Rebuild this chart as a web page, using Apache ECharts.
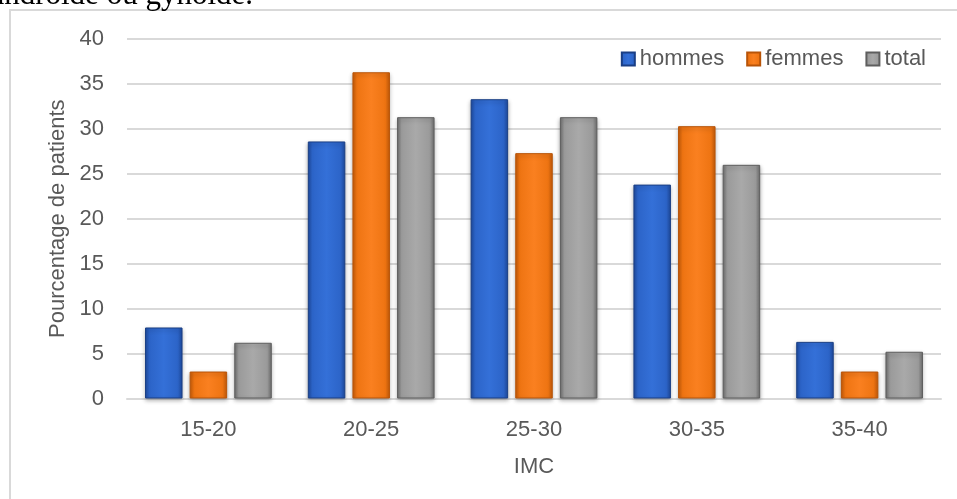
<!DOCTYPE html>
<html>
<head>
<meta charset="utf-8">
<script src="https://cdn.jsdelivr.net/npm/echarts@6/dist/echarts.min.js"></script>
<style>
html,body{margin:0;padding:0;background:#fff;}
#c{width:957px;height:499px;}
</style>
</head>
<body>
<div id="c"></div>
<script>
const categories = ['15-20', '20-25', '25-30', '30-35', '35-40'];
const hommes = [7.9, 28.6, 33.3, 23.8, 6.3];
const femmes = [3.0, 36.3, 27.3, 30.3, 3.0];
const total = [6.2, 31.3, 31.3, 26.0, 5.2];
const seriesNames = ['hommes', 'femmes', 'total'];
const yTicks = [0, 5, 10, 15, 20, 25, 30, 35, 40];

function grad(edge, mid, center) {
  return {
    type: 'linear', x: 0, y: 0, x2: 1, y2: 0,
    colorStops: [
      { offset: 0, color: edge },
      { offset: 0.12, color: mid },
      { offset: 0.5, color: center },
      { offset: 0.88, color: mid },
      { offset: 1, color: edge }
    ]
  };
}
const styles = [
  { color: grad('#1E4A9E', '#2C64C8', '#3470D8'), border: '#1A3F85' },
  { color: grad('#C45A08', '#EE7412', '#FA8020'), border: '#B85408' },
  { color: grad('#6E6E6E', '#9A9A9A', '#A9A9A9'), border: '#5E5E5E' }
];
const dataSets = [hommes, femmes, total];

const chart = echarts.init(document.getElementById('c'), null, { renderer: 'canvas' });
const font = '"Liberation Sans", Arial, sans-serif';
chart.setOption({
  animation: false,
  backgroundColor: '#fff',
  graphic: [
    {
      type: 'rect',
      shape: { x: 10, y: 10, width: 1000, height: 600 },
      style: { fill: 'none', stroke: '#D9D9D9', lineWidth: 2 },
      silent: true, z: -1
    },
    {
      type: 'text',
      x: 253, y: 11.5,
      style: {
        text: 'androïde ou gynoïde.',
        font: '31px "Liberation Serif", "Times New Roman", serif',
        fill: '#000',
        textAlign: 'right',
        textVerticalAlign: 'bottom'
      }
    }
  ],
  legend: {
    data: seriesNames,
    right: 26,
    top: 43,
    itemWidth: 13,
    itemHeight: 13,
    itemGap: 22,
    icon: 'rect',
    textStyle: { color: '#595959', fontSize: 22, fontFamily: font }
  },
  grid: { left: 127, right: 16, top: 39, bottom: 100.5, containLabel: false },
  xAxis: {
    type: 'category',
    data: categories,
    name: 'IMC',
    nameLocation: 'middle',
    nameGap: 57,
    nameTextStyle: { color: '#595959', fontSize: 22, fontFamily: font },
    axisLine: { show: true, lineStyle: { color: '#D9D9D9', width: 2 } },
    axisTick: { show: false },
    axisLabel: { color: '#595959', fontSize: 22, fontFamily: font, margin: 20 }
  },
  yAxis: {
    type: 'value',
    min: 0, max: 40, interval: 5,
    name: 'Pourcentage de patients',
    nameLocation: 'middle',
    nameGap: 58,
    nameRotate: 90,
    nameTextStyle: { color: '#595959', fontSize: 22, fontFamily: font },
    axisLine: { show: false },
    axisTick: { show: false },
    splitLine: { lineStyle: { color: '#D9D9D9', width: 2 } },
    axisLabel: {
      color: '#595959', fontSize: 22, fontFamily: font, margin: 23,
      formatter: v => yTicks.includes(v) ? String(v) : ''
    }
  },
  series: seriesNames.map((n, i) => ({
    name: n,
    type: 'bar',
    data: dataSets[i],
    barWidth: 37.5,
    barGap: '19%',
    itemStyle: {
      color: styles[i].color,
      borderColor: styles[i].border,
      borderWidth: 1,
      shadowBlur: 4,
      shadowColor: 'rgba(0,0,0,0.3)',
      shadowOffsetY: 2
    }
  }))
});
</script>
</body>
</html>
